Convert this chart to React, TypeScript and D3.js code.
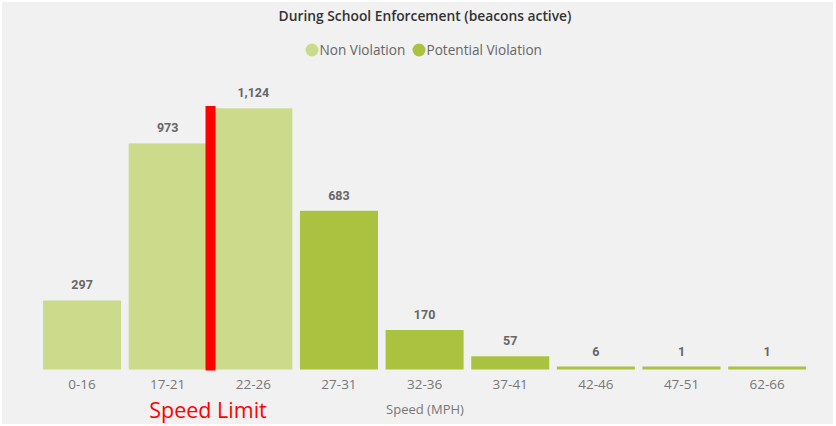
import React from "react";
import * as d3 from "d3";

const categories = ["0-16", "17-21", "22-26", "27-31", "32-36", "37-41", "42-46", "47-51", "62-66"];
const counts = [297, 973, 1124, 683, 170, 57, 6, 1, 1];
const seriesOf = ["Non Violation", "Non Violation", "Non Violation", "Potential Violation", "Potential Violation", "Potential Violation", "Potential Violation", "Potential Violation", "Potential Violation"];
const legendItems = ["Non Violation", "Potential Violation"];
const speedLimitBetween = ["17-21", "22-26"];

const W = 836;
const H = 426;
const colors: Record<string, string> = {
  "Non Violation": "#ccda8c",
  "Potential Violation": "#aac240",
};

export default function App() {
  const x = d3.scaleBand<string>().domain(categories).range([39.2, 810]).paddingInner(0.089).paddingOuter(0.045);
  const baseline = 369.5;
  const y = d3.scaleLinear().domain([0, 1124]).range([baseline, 108.3]);
  const fmt = d3.format(",");
  const slX = (x(speedLimitBetween[0])! + x.bandwidth() + x(speedLimitBetween[1])!) / 2;
  const uiFont = "'Open Sans', 'Noto Sans', sans-serif";
  const labelFont = "Roboto, 'DejaVu Sans', sans-serif";
  const legendX = [312, 419];
  return (
    <div style={{ position: "fixed", left: 0, top: 0 }}>
      <svg width={W} height={H} style={{ display: "block" }}>
        <rect x={0} y={0} width={W} height={H} fill="#ffffff" />
        <rect x={2} y={2} width={W - 5} height={H - 4} fill="#f1f1f1" />
        <text x={425} y={21} textAnchor="middle" fontFamily={uiFont} fontSize={13.8} fontWeight={600} fill="#333">
          During School Enforcement (beacons active)
        </text>
        {legendItems.map((name, i) => (
          <g key={name}>
            <circle cx={legendX[i]} cy={50} r={6.5} fill={colors[name]} />
            <text x={legendX[i] + 7.5} y={55} fontFamily={uiFont} fontSize={13.6} fill="#666">{name}</text>
          </g>
        ))}
        {categories.map((c, i) => {
          const bx = x(c)!;
          const h = Math.max(baseline - y(counts[i]), 3);
          return (
            <g key={c}>
              <rect x={bx} y={baseline - h} width={x.bandwidth()} height={h} fill={colors[seriesOf[i]]} />
              <text x={bx + x.bandwidth() / 2} y={baseline - h - 11} textAnchor="middle" fontFamily={labelFont} fontSize={12.5} fontWeight={700} fill="#666">
                {fmt(counts[i])}
              </text>
              <text x={bx + x.bandwidth() / 2} y={389} textAnchor="middle" fontFamily={uiFont} fontSize={13.5} fill="#777">
                {c}
              </text>
            </g>
          );
        })}
        <rect x={slX - 5} y={106} width={10} height={baseline - 106 + 1} fill="#ff0000" />
        <text x={425} y={414} textAnchor="middle" fontFamily={uiFont} fontSize={13} fill="#777">Speed (MPH)</text>
        <text x={208} y={418} textAnchor="middle" fontFamily={uiFont} fontSize={21.5} fill="#ff0000">Speed Limit</text>
      </svg>
    </div>
  );
}
